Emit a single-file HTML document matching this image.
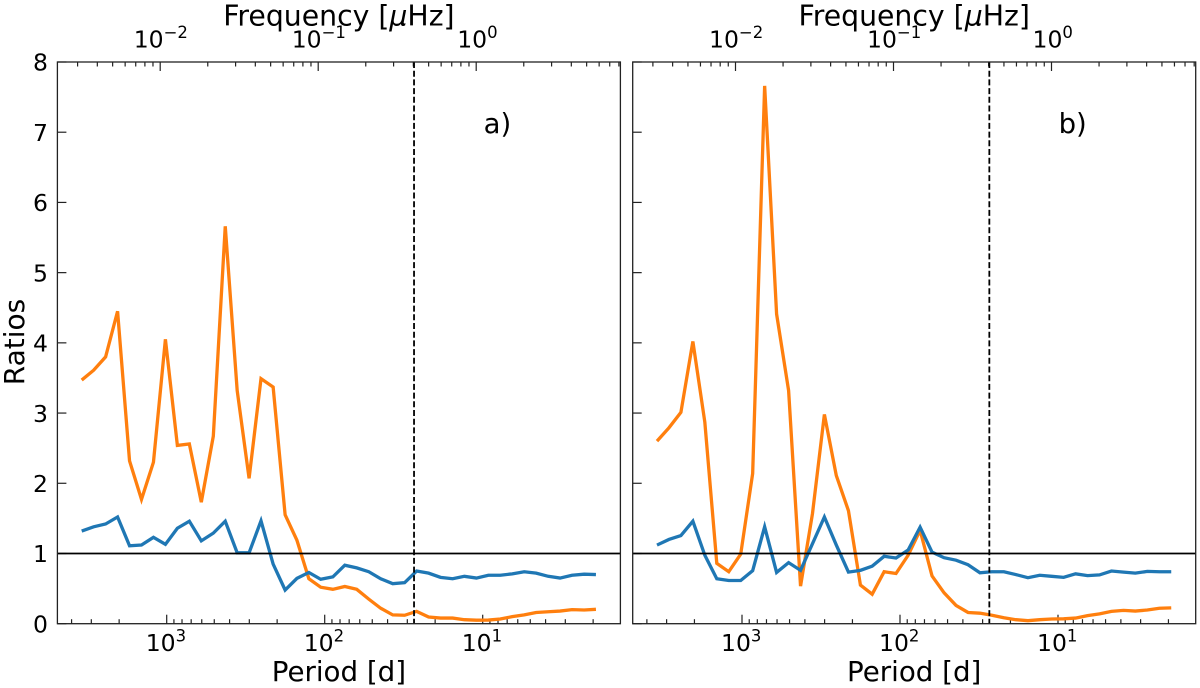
<!DOCTYPE html>
<html lang="en">
<head>
<meta charset="utf-8">
<title>Ratios vs Period</title>
<style>
html,body{margin:0;padding:0;background:#fff;width:1200px;height:688px;overflow:hidden}
svg{display:block}
text{font-family:"DejaVu Sans",sans-serif;fill:#000}
</style>
</head>
<body>
<svg id="chart" xmlns="http://www.w3.org/2000/svg" width="1200" height="688" viewBox="0 0 1200 688"></svg>
<script>
const periods = [3451,2900,2436,2046,1719,1444,1213,1019,856,719,604,507,426,358,301,253,212,178,150,126,106,88.8,74.6,62.7,52.6,44.2,37.1,31.2,26.2,22.0,18.5,15.5,13.05,10.96,9.21,7.74,6.50,5.46,4.59,3.85,3.24,2.72,2.28,1.92];
const orangeA = [3.47,3.61,3.80,4.45,2.32,1.77,2.30,4.05,2.54,2.56,1.73,2.67,5.66,3.32,2.07,3.49,3.37,1.55,1.19,0.64,0.52,0.49,0.53,0.49,0.35,0.22,0.125,0.12,0.176,0.095,0.08,0.08,0.057,0.05,0.052,0.067,0.10,0.125,0.16,0.17,0.18,0.20,0.195,0.205];
const blueA = [1.32,1.38,1.42,1.52,1.11,1.12,1.23,1.13,1.36,1.46,1.18,1.29,1.46,1.01,1.01,1.465,0.85,0.48,0.645,0.73,0.633,0.667,0.833,0.795,0.74,0.64,0.57,0.585,0.75,0.72,0.66,0.64,0.675,0.65,0.69,0.69,0.71,0.74,0.72,0.675,0.65,0.69,0.705,0.70];
const orangeB = [2.60,2.79,3.01,4.02,2.87,0.86,0.74,0.99,2.14,7.66,4.41,3.32,0.535,1.57,2.98,2.11,1.61,0.55,0.42,0.74,0.715,0.975,1.33,0.68,0.44,0.26,0.16,0.15,0.12,0.085,0.057,0.043,0.057,0.067,0.07,0.08,0.115,0.14,0.175,0.19,0.18,0.195,0.22,0.225];
const blueB = [1.12,1.20,1.255,1.46,0.975,0.64,0.615,0.615,0.755,1.38,0.73,0.87,0.76,1.14,1.52,1.12,0.735,0.76,0.82,0.96,0.935,1.05,1.375,1.02,0.94,0.905,0.84,0.725,0.74,0.74,0.70,0.655,0.69,0.675,0.66,0.71,0.685,0.695,0.75,0.735,0.72,0.745,0.74,0.74];
const yTicks = [0,1,2,3,4,5,6,7,8];
const periodDecades = [1000,100,10];
const periodExponents = ['3','2','1'];
const freqDecades = [0.01,0.1,1];
const freqExponents = ['\u22122','\u22121','0'];
const minorMultipliers = [2,3,4,5,6,7,8,9];
const referenceRatio = 1;
const rotationPeriod = 27.2;
const panelLabels = ['a)','b)'];

const NS = 'http://www.w3.org/2000/svg';
const svg = document.getElementById('chart');
const AX_W = 563, AX_TOP = 62, AX_BOTTOM = 623.7;
const DECADE = 158;

function mk(tag, parent, attrs, name) {
  const el = document.createElementNS(NS, tag);
  for (const k in attrs) el.setAttribute(k, attrs[k]);
  
  
  parent.appendChild(el);
  return el;
}
function yScale(v) { return AX_BOTTOM - (AX_BOTTOM - AX_TOP) * v / 8; }

function drawPanel(left, orange, blue, label, key) {
  const right = left + AX_W;
  const xPeriod = p => left + 109.3 + (3 - Math.log10(p)) * DECADE;
  const xFreq = f => left + 418.8 + Math.log10(f) * DECADE;
  const g = mk('g', svg, {}, 'panel-' + key);

  // minor + major ticks, bottom (period)
  const gx = mk('g', g, {stroke:'#222','stroke-width':1.2}, 'period-axis-ticks');
  for (let e = 0; e <= 3; e++) {
    for (const m of minorMultipliers) {
      const x = xPeriod(m * Math.pow(10, e));
      if (x < left + 1 || x > right - 1) continue;
      mk('line', gx, {x1:x,x2:x,y1:AX_BOTTOM,y2:AX_BOTTOM - 4.5}, 'period-minor-tick');
    }
  }
  periodDecades.forEach((p, i) => {
    const x = xPeriod(p);
    mk('line', gx, {x1:x,x2:x,y1:AX_BOTTOM,y2:AX_BOTTOM - 9}, 'period-major-tick');
    const t = mk('text', g, {x:x - 21, y:651, 'font-size':23.5}, 'period-tick-label');
    t.appendChild(document.createTextNode('10'));
    const s = mk('tspan', t, {dy:-9.5, 'font-size':16.5}, 'period-tick-exponent');
    s.textContent = periodExponents[i];
  });

  // top ticks (frequency)
  const gt = mk('g', g, {stroke:'#222','stroke-width':1.2}, 'frequency-axis-ticks');
  for (let e = -3; e <= 0; e++) {
    for (const m of minorMultipliers) {
      const x = xFreq(m * Math.pow(10, e));
      if (x < left + 1 || x > right - 1) continue;
      mk('line', gt, {x1:x,x2:x,y1:AX_TOP,y2:AX_TOP + 4.5}, 'frequency-minor-tick');
    }
  }
  freqDecades.forEach((f, i) => {
    const x = xFreq(f);
    mk('line', gt, {x1:x,x2:x,y1:AX_TOP,y2:AX_TOP + 9}, 'frequency-major-tick');
    const t = mk('text', g, {x:x - (i === 2 ? 19 : 26.5), y:47.5, 'font-size':23.5}, 'frequency-tick-label');
    t.appendChild(document.createTextNode('10'));
    const s = mk('tspan', t, {dy:-9.5, 'font-size':16.5}, 'frequency-tick-exponent');
    s.textContent = freqExponents[i];
  });

  // y ticks
  const gy = mk('g', g, {stroke:'#222','stroke-width':1.2}, 'ratio-axis-ticks');
  yTicks.forEach(v => {
    const y = yScale(v);
    mk('line', gy, {x1:left,x2:left + 9,y1:y,y2:y}, 'ratio-tick');
    if (key === 'a') {
      const t = mk('text', g, {x:left - 9.5, y:y + 8.7, 'font-size':23.5, 'text-anchor':'end'}, 'ratio-tick-label');
      t.textContent = String(v);
    }
  });

  // series
  const ptsO = periods.map((p, i) => xPeriod(p).toFixed(2) + ',' + yScale(orange[i]).toFixed(2)).join(' ');
  mk('polyline', g, {points:ptsO, fill:'none', stroke:'#ff7f0e', 'stroke-width':3.3, 'stroke-linejoin':'miter', 'stroke-miterlimit':4}, 'orange-series-line');
  const ptsB = periods.map((p, i) => xPeriod(p).toFixed(2) + ',' + yScale(blue[i]).toFixed(2)).join(' ');
  mk('polyline', g, {points:ptsB, fill:'none', stroke:'#1f77b4', 'stroke-width':3.3, 'stroke-linejoin':'miter', 'stroke-miterlimit':4}, 'blue-series-line');

  // reference lines
  mk('line', g, {x1:left,x2:right,y1:yScale(referenceRatio),y2:yScale(referenceRatio),stroke:'#000','stroke-width':1.7}, 'ratio-one-reference-line');
  const xd = xPeriod(rotationPeriod);
  mk('line', g, {x1:xd,x2:xd,y1:AX_TOP,y2:AX_BOTTOM,stroke:'#000','stroke-width':1.8,'stroke-dasharray':'6 2.7'}, 'rotation-period-dashed-line');

  // frame
  mk('rect', g, {x:left,y:AX_TOP,width:AX_W,height:AX_BOTTOM - AX_TOP,fill:'none',stroke:'#222','stroke-width':1.3}, 'axes-frame');

  // titles
  const cx = left + AX_W / 2;
  const pt = mk('text', g, {x:cx, y:681, 'font-size':27.7, 'text-anchor':'middle'}, 'period-axis-title');
  pt.textContent = 'Period [d]';
  const ft = mk('text', g, {x:cx, y:25.5, 'font-size':28.3, 'text-anchor':'middle'}, 'frequency-axis-title');
  ft.appendChild(document.createTextNode('Frequency ['));
  const mu = mk('tspan', ft, {'font-style':'italic'}, 'mu-symbol');
  mu.textContent = '\u03BC';
  ft.appendChild(document.createTextNode('Hz]'));
  const lab = mk('text', g, {x:left + 440, y:133, 'font-size':27.5, 'text-anchor':'middle'}, 'panel-label-' + key);
  lab.textContent = label;
}

drawPanel(57.4, orangeA, blueA, panelLabels[0], 'a');
drawPanel(632.7, orangeB, blueB, panelLabels[1], 'b');

const yTitle = mk('text', svg, {x:0, y:0, 'font-size':28, 'text-anchor':'middle', transform:'translate(24 342) rotate(-90)'}, 'ratios-axis-title');
yTitle.textContent = 'Ratios';
</script>
</body>
</html>
